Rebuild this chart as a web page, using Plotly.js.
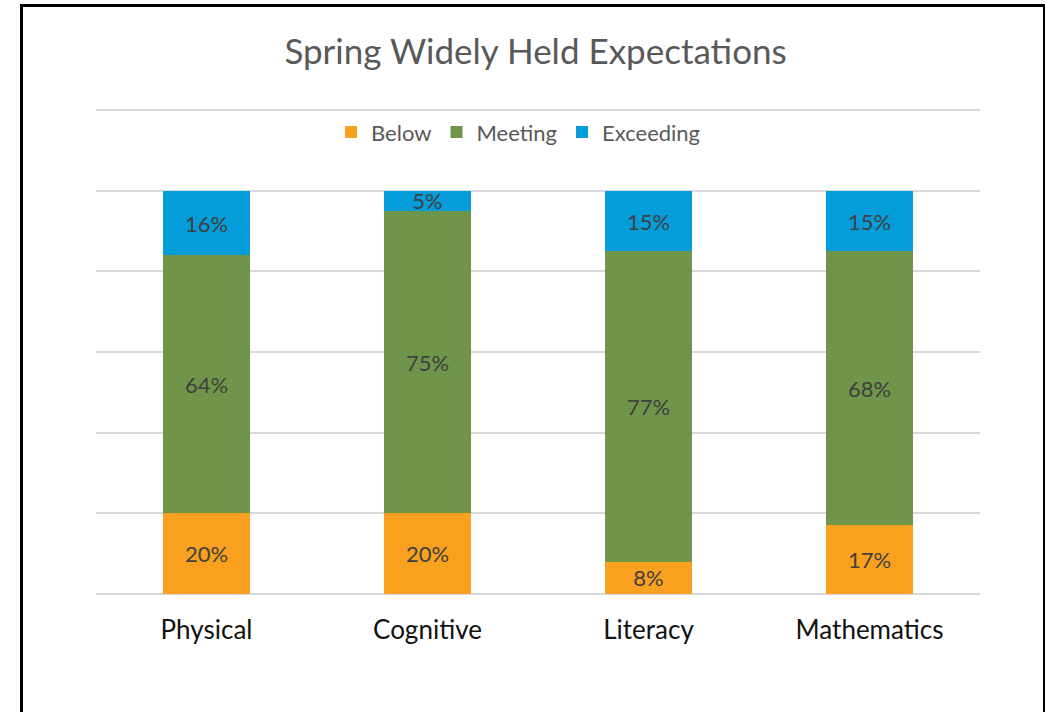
<!DOCTYPE html>
<html>
<head>
<meta charset="utf-8">
<script src="https://cdn.plot.ly/plotly-3.0.1.min.js"></script>
<style>
  html, body { margin: 0; padding: 0; background: #fff; overflow: hidden; }
  #chart { width: 1046px; height: 712px; }
  #frame { position: absolute; left: 20px; top: 4px; width: 1020px; height: 740px;
           border-left: 3px solid #000; border-top: 3px solid #000; border-right: 2px solid #000;
           pointer-events: none; }
</style>
</head>
<body>
<div id="chart"></div>
<div id="frame"></div>
<script>
const categories = ["Physical", "Cognitive", "Literacy", "Mathematics"];
const below = [20, 20, 8, 17];
const meeting = [64, 75, 77, 68];
const exceeding = [16, 5, 15, 15];

const seriesNames = ["Below", "Meeting", "Exceeding"];
const seriesValues = [below, meeting, exceeding];
const seriesColors = ["#F9A11E", "#6E9549", "#049DD9"];

const FONT = "Lato, 'Open Sans', sans-serif";

const traces = seriesValues.map((vals, i) => ({
  type: "bar",
  name: seriesNames[i],
  x: categories,
  y: vals,
  marker: { color: seriesColors[i], line: { width: 0 } },
  text: vals.map(v => v + "%"),
  textposition: "inside",
  insidetextanchor: "middle",
  textangle: 0,
  constraintext: "none",
  insidetextfont: { family: FONT, size: 22, color: "#404040" },
  hoverinfo: "x+y+name"
}));

const layout = {
  width: 1046,
  height: 712,
  paper_bgcolor: "rgba(0,0,0,0)",
  plot_bgcolor: "rgba(0,0,0,0)",
  margin: { l: 96, r: 66, t: 109, b: 118 },
  barmode: "stack",
  bargap: 0.605,
  uniformtext: { mode: "show", minsize: 22 },
  title: {
    text: "Spring Widely Held Expectations",
    font: { family: FONT, size: 35, color: "#595959" },
    x: 0.512, xanchor: "center",
    y: 0.927, yref: "container", yanchor: "middle"
  },
  legend: {
    orientation: "h",
    x: 0.478, xanchor: "center",
    y: 0.952, yanchor: "middle",
    bgcolor: "rgba(0,0,0,0)",
    font: { family: FONT, size: 22, color: "#595959" },
    traceorder: "normal",
    itemwidth: 30
  },
  xaxis: {
    showgrid: false,
    showline: false,
    zeroline: false,
    ticks: "outside",
    ticklen: 13,
    tickcolor: "rgba(0,0,0,0)",
    tickfont: { family: FONT, size: 26, color: "#111111" }
  },
  yaxis: {
    range: [0, 120.3],
    dtick: 20,
    tick0: 0,
    showticklabels: false,
    showgrid: true,
    gridcolor: "#D9D9D9",
    gridwidth: 2,
    zeroline: true,
    zerolinecolor: "#D9D9D9",
    zerolinewidth: 2,
    showline: false,
    fixedrange: true
  }
};

Plotly.newPlot("chart", traces, layout, { displayModeBar: false, staticPlot: true });
</script>
</body>
</html>
